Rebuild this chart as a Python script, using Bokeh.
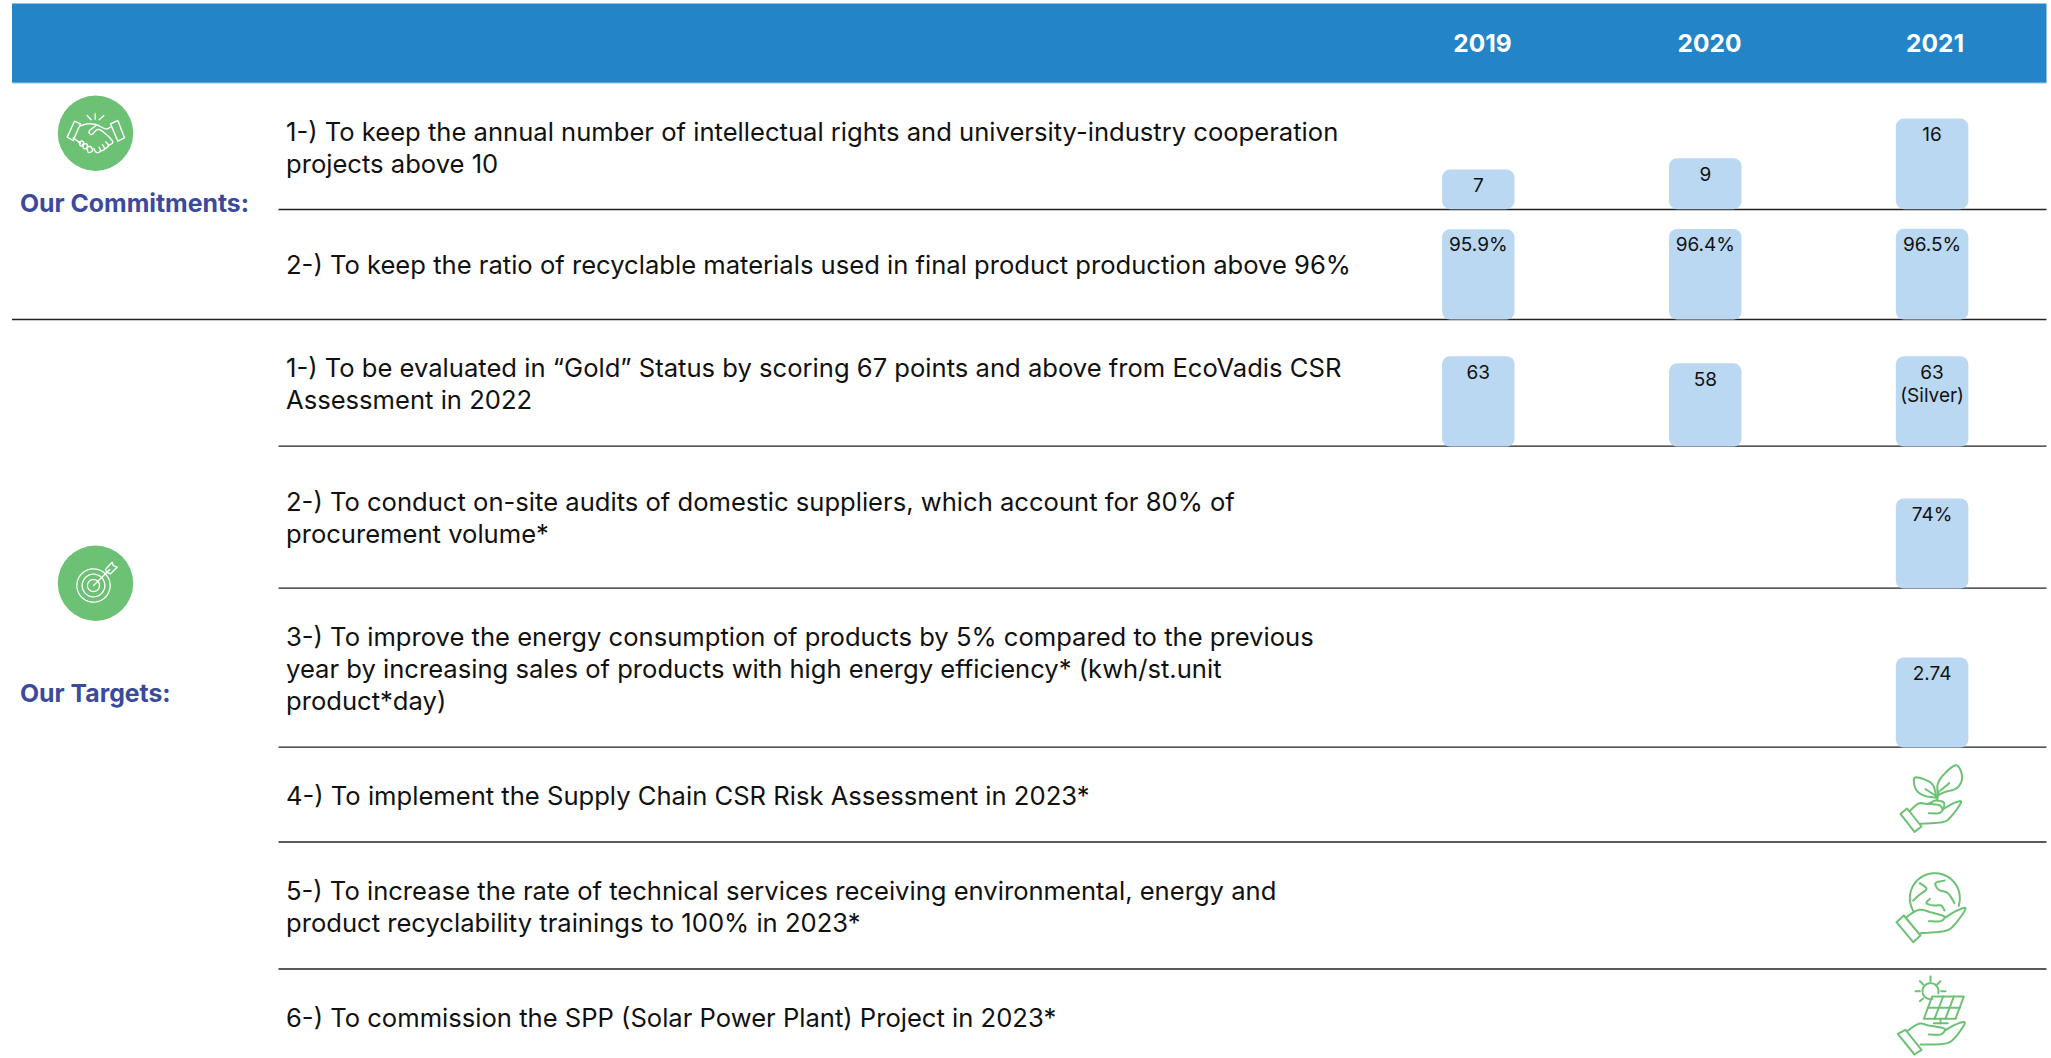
from bokeh.plotting import figure
from bokeh.models import Range1d
from bokeh.core.properties import value
from bokeh.embed import file_html
from bokeh.resources import INLINE
import numpy as np

# ---------- data ----------
years = ["2019", "2020", "2021"]
section_titles = ["Our Commitments:", "Our Targets:"]
row_texts = [
    ["1-) To keep the annual number of intellectual rights and university-industry cooperation", "projects above 10"],
    ["2-) To keep the ratio of recyclable materials used in final product production above 96%"],
    ["1-) To be evaluated in \u201cGold\u201d Status by scoring 67 points and above from EcoVadis CSR", "Assessment in 2022"],
    ["2-) To conduct on-site audits of domestic suppliers, which account for 80% of", "procurement volume*"],
    ["3-) To improve the energy consumption of products by 5% compared to the previous",
     "year by increasing sales of products with high energy efficiency* (kwh/st.unit", "product*day)"],
    ["4-) To implement the Supply Chain CSR Risk Assessment in 2023*"],
    ["5-) To increase the rate of technical services receiving environmental, energy and",
     "product recyclability trainings to 100% in 2023*"],
    ["6-) To commission the SPP (Solar Power Plant) Project in 2023*"],
]
ip_projects = [7, 9, 16]
recyclable_pct = [95.9, 96.4, 96.5]
ecovadis = [63, 58, 63]
audits_pct = [None, None, 74]
energy = [None, None, 2.74]
labels_1 = ["7", "9", "16"]
labels_2 = ["95.9%", "96.4%", "96.5%"]
labels_3 = ["63", "58", "63"]
labels_4 = [None, None, "74%"]
labels_5 = [None, None, "2.74"]

# ---------- layout (pixels) ----------
W, H = 2051, 1058
FONT = "Inter"
BLUE, BAR, GREEN, NAVY, INK = "#2484C8", "#BBD8F3", "#6CC175", "#3B4A9C", "#111111"
col_x = [1477.8, 1704.8, 1931.6]
head_x = [1482, 1709, 1934.5]
TXT = 285.5
line_h = 32

p = figure(width=W, height=H, x_range=Range1d(0, W), y_range=Range1d(H, 0),
           output_backend="svg", toolbar_location=None, min_border=0,
           outline_line_color=None, background_fill_color="white", border_fill_color="white")
p.axis.visible = False
p.grid.visible = False
p.styles = {"position": "absolute", "left": "0px", "top": "0px"}

# header
p.quad(left=[11.5], right=[2046], top=[3], bottom=[82], fill_color=BLUE, line_color=None)
p.segment([11.5], [82.3], [2046], [82.3], line_color="#4A9ADB", line_width=1)
p.text(head_x, [42.8] * 3, text=years, text_font=value(FONT), text_font_style="bold",
       text_font_size="24.5px", text_color="white", text_align="center", text_baseline="middle")

# rules
rule_y = [209, 319, 445.7, 587.7, 746.7, 841.5, 968.5]
rule_x0 = [278, 11.5, 278, 278, 278, 278, 278]
p.segment(rule_x0, rule_y, [2046] * 7, rule_y, line_color="#222222", line_width=1.3)

# row text
row_centres = [146.8, 264.3, 383.3, 517.3, 667.8, 794.8, 905.8, 1016.8]
xs, ys, ts = [], [], []
for c, lines in zip(row_centres, row_texts):
    for i, t in enumerate(lines):
        xs.append(TXT)
        ys.append(c + (i - (len(lines) - 1) / 2) * line_h)
        ts.append(t)
p.text(xs, ys, text=ts, text_font=value(FONT), text_font_size="25.6px", text_color=INK,
       text_align="left", text_baseline="middle")

# bars: every row has its own baseline and its own px-per-unit scale
rows = [
    (ip_projects, labels_1, 208.7, 90.6 / 16),
    (recyclable_pct, labels_2, 319, 90.7 / 96.5),
    (ecovadis, labels_3, 446, 90.3 / 63),
    (audits_pct, labels_4, 588, 90 / 74),
    (energy, labels_5, 747, 90 / 2.74),
]
bx, bb, bt, lx, ly, lt = [], [], [], [], [], []
for vals, labs, base, k in rows:
    for x, v, l in zip(col_x, vals, labs):
        if v is None:
            continue
        top = base - v * k
        bx.append(x); bb.append(base); bt.append(top)
        lx.append(x); ly.append(top + 15.5); lt.append(l)
p.vbar(x=bx, bottom=bb, top=bt, width=72.5, fill_color=BAR, line_color=None, border_radius=8)
lx.append(col_x[2]); ly.append(394.5); lt.append("(Silver)")
p.text(lx, ly, text=lt, text_font=value(FONT), text_font_size="19px", text_color=INK,
       text_align="center", text_baseline="middle")

# section titles
p.text([19.5, 19.5], [202.3, 692.5], text=section_titles, text_font=value(FONT), text_font_style="bold",
       text_font_size="24.8px", text_color=NAVY, text_align="left", text_baseline="middle")


# ---------- icons (decoration, drawn in crop-local units) ----------
def smooth(pts, n=8):
    P = np.array(pts, float)
    P = np.vstack([P[0], P, P[-1]])
    out = []
    for i in range(1, len(P) - 2):
        for t in np.linspace(0, 1, n, endpoint=False):
            a, b, c, d = P[i - 1], P[i], P[i + 1], P[i + 2]
            out.append(0.5 * (2 * b + (c - a) * t + (2 * a - 5 * b + 4 * c - d) * t ** 2 + (3 * b - a - 3 * c + d) * t ** 3))
    out.append(P[-2])
    return np.array(out)


def draw(paths, ox, oy, color, width, f=3.0, curved=False):
    X, Y = [], []
    for q in paths:
        a = smooth(q) if curved else np.array(q, float)
        X.append(list(ox + a[:, 0] / f))
        Y.append(list(oy + a[:, 1] / f))
    p.multi_line(X, Y, line_color=color, line_width=width, line_join="round", line_cap="round")


def arc(cx, cy, r, a0, a1):
    t = np.radians(np.linspace(a0, a1, 50))
    return np.column_stack([cx + r * np.cos(t), cy + r * np.sin(t)])


p.circle([95, 95], [132.7, 582.7], radius=37.7, fill_color=GREEN, line_color=None)

# handshake
draw([[(110, 170), (132, 122), (150, 130), (128, 180), (110, 170)],
      [(240, 130), (262, 120), (282, 172), (262, 182), (240, 130)],
      [(170, 105), (182, 118)], [(194, 100), (194, 116)], [(206, 118), (220, 105)]],
     30, 80, "white", 1.4)
draw([[(150, 136), (172, 130), (198, 133), (225, 145), (240, 140)],
      [(198, 134), (176, 152), (184, 162), (206, 147), (246, 182), (232, 196)],
      [(128, 172), (150, 188)],
      [(146, 184), (156, 182), (160, 192), (150, 196), (146, 184)],
      [(156, 192), (168, 190), (172, 202), (160, 204), (156, 192)],
      [(168, 200), (180, 198), (186, 210), (174, 216), (168, 200)],
      [(190, 204), (198, 216), (210, 212), (206, 200)],
      [(210, 212), (222, 206), (216, 192)],
      [(222, 206), (234, 196), (226, 184)]],
     30, 80, "white", 1.4, curved=True)

# target
draw([arc(219, 195, 50, 0, 360), arc(219, 195, 34, 0, 360), arc(219, 195, 18, 0, 360)],
     20, 520, "white", 1.3)
draw([[(219, 195), (268, 147)],
      [(255, 147), (275, 125), (278, 135), (290, 140), (270, 160), (258, 155), (255, 147)]],
     20, 520, "white", 1.3)

OX, OY = 1840, 740
# hand + plant
draw([[(180, 220), (200, 204), (243, 258), (222, 274), (180, 220)]], OX, OY, GREEN, 2)
draw([[(207, 212), (235, 189), (262, 190), (285, 180), (310, 186), (308, 206)],
      [(240, 250), (305, 245), (330, 230), (362, 185), (340, 188), (308, 206)],
      [(265, 218), (296, 218), (308, 206)],
      [(262, 190), (296, 194), (306, 206)],
      [(290, 172), (250, 165), (226, 146), (222, 112), (255, 118), (278, 135), (288, 172)],
      [(292, 165), (292, 130), (312, 100), (348, 74), (365, 110), (350, 142), (312, 155), (292, 165)],
      [(290, 178), (295, 152)], [(255, 146), (286, 166)], [(300, 150), (326, 128)]],
     OX, OY, GREEN, 2, curved=True)

# hand + globe
draw([[(168, 545), (190, 525), (240, 585), (218, 605), (168, 545)], arc(283, 473, 75, -212, 18)], OX, OY, GREEN, 2)
draw([[(197, 530), (235, 508), (270, 515), (305, 525), (316, 530)],
      [(240, 578), (310, 572), (340, 555), (375, 505), (350, 510), (316, 530)],
      [(265, 542), (300, 542), (314, 530)],
      [(238, 428), (258, 445), (238, 462), (218, 480)],
      [(312, 420), (285, 428), (295, 448), (322, 458), (342, 488)],
      [(268, 475), (258, 488), (280, 495), (302, 495), (312, 510)]],
     OX, OY, GREEN, 2, curved=True)

# hand + solar panel
draw([[(172, 880), (195, 868), (243, 928), (222, 942), (172, 880)],
      [(275, 768), (370, 768), (345, 835), (250, 835), (275, 768)],
      [(262, 802), (358, 802)], [(308, 768), (282, 835)], [(340, 768), (315, 835)],
      [(300, 835), (300, 848)], [(280, 848), (322, 848)],
      arc(270, 752, 24, 75, 375),
      [(270, 708), (270, 722)], [(238, 722), (248, 732)], [(300, 722), (290, 732)],
      [(225, 752), (238, 752)], [(302, 752), (315, 752)], [(238, 782), (248, 774)]],
     OX, OY, GREEN, 2)
draw([[(200, 872), (235, 850), (265, 855), (305, 862), (316, 868)],
      [(240, 912), (310, 910), (340, 895), (373, 848), (350, 850), (316, 868)],
      [(265, 882), (300, 882), (315, 868)]],
     OX, OY, GREEN, 2, curved=True)

open("out.html", "w").write(file_html(p, INLINE))
